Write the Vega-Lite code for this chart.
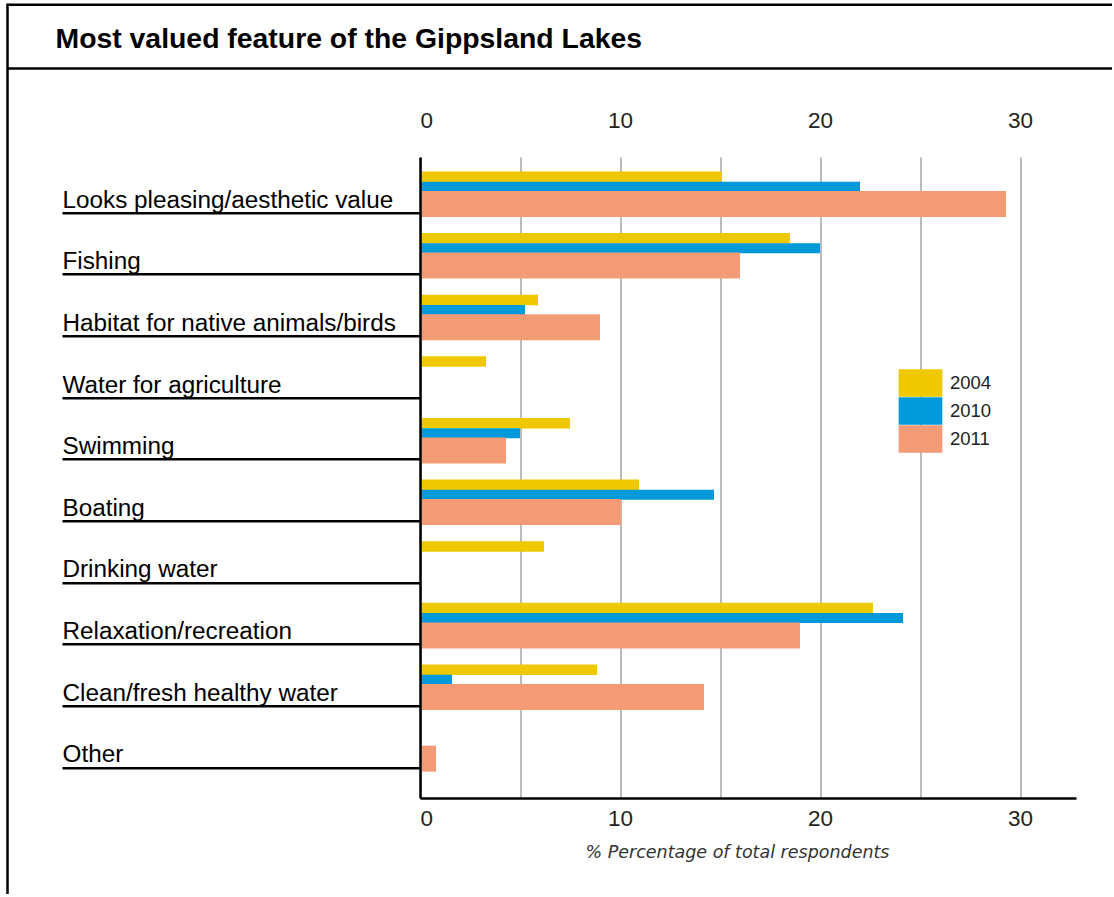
{
  "$schema": "https://vega.github.io/schema/vega-lite/v6.json",
  "padding": {"left": 7.5, "top": 4.7, "right": -16, "bottom": -56},
  "background": "white",
  "config": {
    "view": {"stroke": "#000", "strokeWidth": 2.5},
    "font": "Liberation Sans"
  },
  "width": 1120,
  "height": 945.6,
  "data": {
    "values": [
      {"feature": "Looks pleasing/aesthetic value", "year": "2004", "pct": 15.1},
      {"feature": "Looks pleasing/aesthetic value", "year": "2010", "pct": 22.0},
      {"feature": "Looks pleasing/aesthetic value", "year": "2011", "pct": 29.3},
      {"feature": "Fishing", "year": "2004", "pct": 18.5},
      {"feature": "Fishing", "year": "2010", "pct": 20.0},
      {"feature": "Fishing", "year": "2011", "pct": 16.0},
      {"feature": "Habitat for native animals/birds", "year": "2004", "pct": 5.9},
      {"feature": "Habitat for native animals/birds", "year": "2010", "pct": 5.25},
      {"feature": "Habitat for native animals/birds", "year": "2011", "pct": 9.0},
      {"feature": "Water for agriculture", "year": "2004", "pct": 3.3},
      {"feature": "Swimming", "year": "2004", "pct": 7.5},
      {"feature": "Swimming", "year": "2010", "pct": 5.0},
      {"feature": "Swimming", "year": "2011", "pct": 4.3},
      {"feature": "Boating", "year": "2004", "pct": 10.95},
      {"feature": "Boating", "year": "2010", "pct": 14.7},
      {"feature": "Boating", "year": "2011", "pct": 10.05},
      {"feature": "Drinking water", "year": "2004", "pct": 6.2},
      {"feature": "Relaxation/recreation", "year": "2004", "pct": 22.65},
      {"feature": "Relaxation/recreation", "year": "2010", "pct": 24.15},
      {"feature": "Relaxation/recreation", "year": "2011", "pct": 19.0},
      {"feature": "Clean/fresh healthy water", "year": "2004", "pct": 8.85},
      {"feature": "Clean/fresh healthy water", "year": "2010", "pct": 1.6},
      {"feature": "Clean/fresh healthy water", "year": "2011", "pct": 14.2},
      {"feature": "Other", "year": "2011", "pct": 0.8}
    ]
  },
  "encoding": {
    "y": {
      "field": "feature",
      "type": "nominal",
      "sort": ["Looks pleasing/aesthetic value", "Fishing", "Habitat for native animals/birds", "Water for agriculture", "Swimming", "Boating", "Drinking water", "Relaxation/recreation", "Clean/fresh healthy water", "Other"],
      "scale": {
        "domain": ["Looks pleasing/aesthetic value", "Fishing", "Habitat for native animals/birds", "Water for agriculture", "Swimming", "Boating", "Drinking water", "Relaxation/recreation", "Clean/fresh healthy water", "Other"],
        "range": [152.3, 793.3],
        "paddingInner": 0,
        "paddingOuter": 0.2
      },
      "axis": {
        "title": null,
        "orient": "left",
        "offset": -412.5,
        "bandPosition": 0.709,
        "grid": false,
        "domain": true,
        "domainColor": "#000",
        "domainWidth": 2.5,
        "ticks": true,
        "tickColor": "#000",
        "tickWidth": 2.5,
        "tickSize": 358,
        "labelAlign": "left",
        "labelPadding": 0,
        "labelBaseline": "alphabetic",
        "labelOffset": 7.5,
        "labelFontSize": 24.3,
        "labelColor": "#000",
        "labelLimit": 0,
        "labelFont": "Liberation Sans",
        "zindex": 2
      }
    },
    "color": {
      "field": "year",
      "type": "nominal",
      "scale": {"domain": ["2004", "2010", "2011"], "range": ["#EEC800", "#009ADA", "#F29B75"]},
      "legend": {
        "title": null,
        "orient": "none",
        "legendX": 899,
        "legendY": 364.3,
        "symbolType": "M-1.6,-1H1.6V1H-1.6Z",
        "symbolSize": 745,
        "symbolStrokeWidth": 0,
        "symbolOpacity": 1,
        "rowPadding": 0,
        "padding": 0,
        "labelFontSize": 18.5,
        "labelColor": "#222",
        "labelOffset": 15.5,
        "labelFont": "Liberation Sans"
      }
    }
  },
  "layer": [
    {
      "mark": {"type": "point", "opacity": 0},
      "encoding": {
        "x": {
          "field": "pct",
          "type": "quantitative",
          "scale": {"domain": [0, 32.8], "range": [0, 1120], "nice": false, "zero": true},
          "axis": {
            "orient": "top",
            "offset": -63.3,
            "grid": false,
            "domain": true,
            "domainColor": "#000",
            "domainWidth": 2.5,
            "ticks": false,
            "labels": false,
            "title": "Most valued feature of the Gippsland Lakes",
            "titleX": 47.5,
            "titleY": -20,
            "titleAlign": "left",
            "titleAnchor": "start",
            "titleBaseline": "alphabetic",
            "titleFont": "Liberation Sans",
            "titleFontSize": 28.4,
            "titleFontWeight": "bold",
            "titleColor": "#000"
          }
        }
      }
    },
    {
      "transform": [{"filter": "datum.year === '2004'"}],
      "mark": {"type": "bar", "size": 10.5, "yOffset": -23.5},
      "encoding": {
        "x": {
          "field": "pct",
          "type": "quantitative",
          "scale": {"domain": [0, 32.8], "range": [412.5, 1068.5], "nice": false, "zero": true},
          "axis": {
            "orient": "bottom",
            "offset": -152.3,
            "values": [0, 5, 10, 15, 20, 25, 30],
            "labelExpr": "datum.value % 10 === 0 ? datum.label : ''",
            "grid": true,
            "gridColor": "#BBBBBB",
            "gridWidth": 2,
            "domain": true,
            "domainColor": "#000",
            "domainWidth": 2.5,
            "ticks": false,
            "labelFontSize": 22.5,
            "labelColor": "#222",
            "labelPadding": 10,
            "labelOverlap": false,
            "title": "% Percentage of total respondents",
            "titleFont": "DejaVu Sans",
            "titleFontStyle": "italic",
            "titleFontWeight": "normal",
            "titleFontSize": 17.5,
            "titleColor": "#333",
            "titlePadding": 13,
            "titleX": 729.5
          }
        }
      }
    },
    {
      "transform": [{"filter": "datum.year === '2010'"}],
      "mark": {"type": "bar", "size": 10, "yOffset": -13.5},
      "encoding": {
        "x": {
          "field": "pct",
          "type": "quantitative",
          "scale": {"domain": [0, 32.8], "range": [412.5, 1068.5], "nice": false, "zero": true},
          "axis": {
            "orient": "top",
            "offset": -152.3,
            "values": [0, 10, 20, 30],
            "grid": false,
            "domain": false,
            "ticks": false,
            "tickSize": 0,
            "labelFontSize": 22.5,
            "labelColor": "#222",
            "labelPadding": 24,
            "title": null
          }
        }
      }
    },
    {
      "transform": [{"filter": "datum.year === '2011'"}],
      "mark": {"type": "bar", "size": 26, "yOffset": 3.8},
      "encoding": {
        "x": {
          "field": "pct",
          "type": "quantitative",
          "scale": {"domain": [0, 32.8], "range": [412.5, 1068.5], "nice": false, "zero": true},
          "axis": null
        }
      }
    }
  ],
  "resolve": {"scale": {"x": "independent"}, "axis": {"x": "independent"}}
}
